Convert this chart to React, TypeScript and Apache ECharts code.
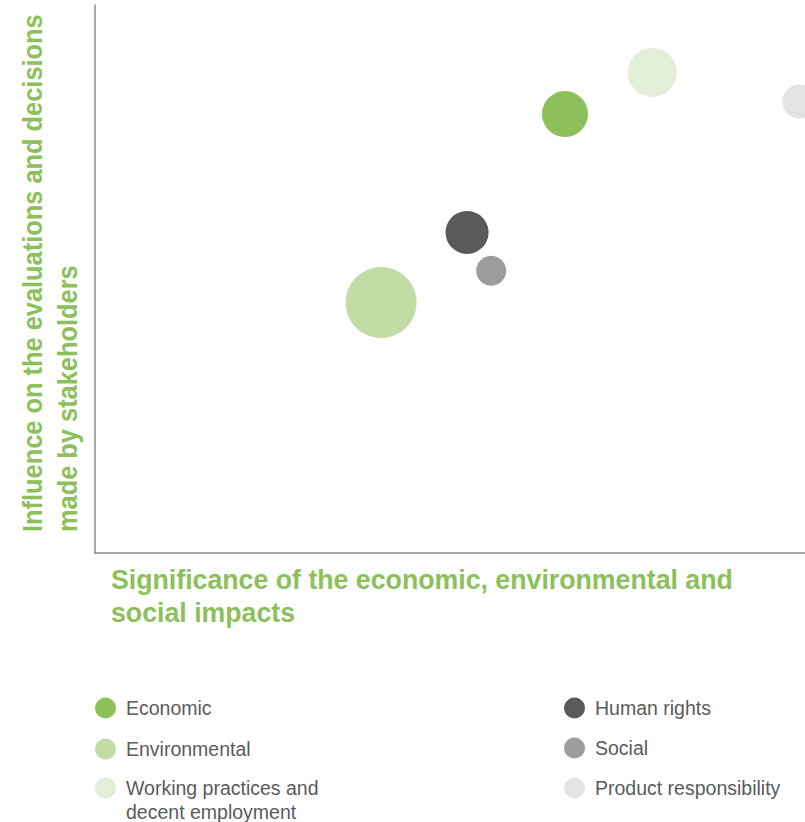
import React, { useEffect, useRef } from "react";
import * as echarts from "echarts";

const categories = [
  "Economic",
  "Environmental",
  "Working practices and decent employment",
  "Human rights",
  "Social",
  "Product responsibility",
];
const legendLabels = [
  "Economic",
  "Environmental",
  "Working practices and\ndecent employment",
  "Human rights",
  "Social",
  "Product responsibility",
];
// significance (x), influence (y), bubble size
const xValues = [66.2, 40.3, 78.5, 52.4, 55.8, 99.2];
const yValues = [80.1, 45.7, 87.7, 58.5, 51.5, 82.4];
const sizes = [46, 71, 49, 43, 30, 34];
const colors = ["#8dc05b", "#c3dca5", "#e2eed6", "#5a5a5c", "#9c9d9f", "#e3e3e4"];

const xTitleLines = ["Significance of the economic, environmental and", "social impacts"];
const yTitleLines = ["Influence on the evaluations and decisions", "made by stakeholders"];

const titleGreen = "#8cc05a";
const titleFamily = '"Liberation Sans", Arial, sans-serif';
const titleSize = 28;
const legendFont = '"Liberation Sans", Arial, sans-serif';

function measure(text: string, font: string): number {
  const c = document.createElement("canvas").getContext("2d");
  if (!c) return text.length * 14;
  c.font = font;
  return c.measureText(text).width;
}

export default function App() {
  const ref = useRef<HTMLDivElement>(null);
  useEffect(() => {
    if (!ref.current) return;
    const chart = echarts.init(ref.current, undefined, { renderer: "svg" });
    const titleFont = `bold ${titleSize}px ${titleFamily}`;
    const xScale = 622 / measure(xTitleLines[0], titleFont);
    const yScale = 518 / measure(yTitleLines[0], titleFont);

    const series = categories.map((name, i) => ({
      name,
      type: "scatter",
      data: [[xValues[i], yValues[i], sizes[i]]],
      symbolSize: (v: number[]) => v[2],
      itemStyle: { color: colors[i], opacity: 1 },
      clip: false,
      z: 2,
    }));
    const legendBase = {
      orient: "vertical",
      icon: "circle",
      itemWidth: 21,
      itemHeight: 21,
      itemGap: 19,
      height: 200,
      padding: 0,
      selectedMode: false,
      textStyle: {
        color: "#5b5b5b",
        fontSize: 19.5,
        lineHeight: 24,
        fontFamily: legendFont,
        padding: [0, 0, 0, 5],
      },
    };
    const singleFmt = (name: string) => legendLabels[categories.indexOf(name)];
    // leading blank line keeps the first text line level with the icon
    const multiFmt = (name: string) => "\n" + legendLabels[categories.indexOf(name)];
    chart.setOption({
      animation: false,
      backgroundColor: "#ffffff",
      grid: { left: 95, top: 5, right: 0, bottom: 269, containLabel: false },
      xAxis: {
        type: "value",
        min: 0,
        max: 100,
        axisLine: { show: true, lineStyle: { color: "#8a8a8a", width: 1.5 } },
        axisTick: { show: false },
        axisLabel: { show: false },
        splitLine: { show: false },
      },
      yAxis: {
        type: "value",
        min: 0,
        max: 100,
        axisLine: { show: true, lineStyle: { color: "#8a8a8a", width: 1.5 } },
        axisTick: { show: false },
        axisLabel: { show: false },
        splitLine: { show: false },
      },
      legend: [
        {
          ...legendBase,
          left: 95,
          top: 696,
          itemGap: 17,
          formatter: singleFmt,
          data: [categories[0], categories[1]],
        },
        {
          ...legendBase,
          left: 95,
          top: 752,
          formatter: multiFmt,
          data: [categories[2]],
        },
        {
          ...legendBase,
          left: 564,
          top: 696,
          itemGap: 16,
          formatter: singleFmt,
          data: [categories[3], categories[4], categories[5]],
        },
      ],
      graphic: [
        {
          type: "text",
          x: 111,
          y: 563,
          scaleX: xScale,
          style: {
            text: xTitleLines.join("\n"),
            fill: titleGreen,
            font: titleFont,
            lineHeight: 33,
            textAlign: "left",
            textVerticalAlign: "top",
          },
        },
        {
          type: "text",
          x: 15,
          y: 532,
          rotation: Math.PI / 2,
          scaleX: yScale,
          style: {
            text: yTitleLines.join("\n"),
            fill: titleGreen,
            font: titleFont,
            lineHeight: 35,
            textAlign: "left",
            textVerticalAlign: "top",
          },
        },
      ],
      series,
    });
    return () => chart.dispose();
  }, []);
  return (
    <div
      ref={ref}
      style={{ position: "absolute", left: 0, top: 0, width: 805, height: 822 }}
    />
  );
}
